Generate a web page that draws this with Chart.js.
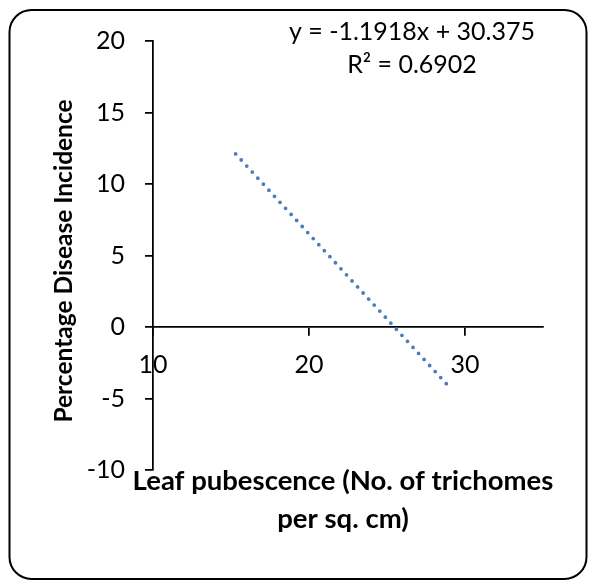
<!DOCTYPE html>
<html>
<head>
<meta charset="utf-8">
<script src="https://cdn.jsdelivr.net/npm/chart.js@4"></script>
<style>
  html, body { margin: 0; padding: 0; background: #fff; }
  #wrap { width: 589px; height: 582px; }
</style>
</head>
<body>
<div id="wrap"><canvas id="chart" width="589" height="582"></canvas></div>
<script>
// values
const trendX = [15.3, 29.0];
const trendY = [12.1, -4.2];
const xTickValues = [10, 20, 30];
const yTickValues = [-10, -5, 0, 5, 10, 15, 20];
const equationLines = ['y = -1.1918x + 30.375', 'R\u00b2 = 0.6902'];
const yTitle = 'Percentage Disease Incidence';
const xTitleLines = ['Leaf pubescence (No. of trichomes', 'per sq. cm)'];

const FONT = 'Lato, "Open Sans", sans-serif';

// frame, axis titles and trendline label
const decorations = {
    id: 'decorations',
    beforeDraw(chart) {
        const ctx = chart.ctx;
        ctx.save();
        ctx.fillStyle = '#fff';
        ctx.fillRect(0, 0, chart.width, chart.height);
        ctx.beginPath();
        ctx.roundRect(9.5, 10, 577, 569, 22);
        ctx.lineWidth = 2;
        ctx.strokeStyle = '#000';
        ctx.stroke();
        ctx.restore();
    },
    afterDraw(chart) {
        const ctx = chart.ctx;
        ctx.save();
        ctx.fillStyle = '#000';
        ctx.textAlign = 'center';
        ctx.textBaseline = 'alphabetic';

        ctx.font = '25px ' + FONT;
        ctx.fillText(equationLines[0], 412, 40);
        ctx.fillText(equationLines[1], 412, 73);

        ctx.font = 'bold 27.5px ' + FONT;
        ctx.fillText(xTitleLines[0], 343, 490);
        ctx.fillText(xTitleLines[1], 343, 528);

        ctx.font = 'bold 24.5px ' + FONT;
        ctx.translate(72, 261);
        ctx.rotate(-Math.PI / 2);
        ctx.fillText(yTitle, 0, 0);
        ctx.restore();
    }
};

const ctx = document.getElementById('chart').getContext('2d');
new Chart(ctx, {
    type: 'scatter',
    data: {
        datasets: [{
            label: 'Linear trend',
            data: trendX.map((x, i) => ({ x: x, y: trendY[i] })),
            showLine: true,
            borderColor: '#4A7DBA',
            borderWidth: 3.8,
            borderDash: [0, 8.2],
            borderCapStyle: 'round',
            pointRadius: 0,
            fill: false
        }]
    },
    options: {
        responsive: false,
        animation: false,
        layout: { padding: { left: 73, right: 46, top: 41, bottom: 112 } },
        plugins: { legend: { display: false }, tooltip: { enabled: false } },
        scales: {
            x: {
                type: 'linear',
                position: { y: 0 },
                min: 10, max: 35,
                afterBuildTicks: axis => { axis.ticks = xTickValues.map(v => ({ value: v })); },
                grid: { drawOnChartArea: false, tickLength: 8, color: '#000', lineWidth: 1.75 },
                border: { color: '#000', width: 1.75 },
                ticks: { color: '#000', font: { family: FONT, size: 25 }, padding: 15, maxRotation: 0 }
            },
            y: {
                type: 'linear',
                position: 'left',
                min: -10, max: 20,
                afterBuildTicks: axis => { axis.ticks = yTickValues.map(v => ({ value: v })); },
                afterFit: axis => { axis.width = 80; },
                grid: { drawOnChartArea: false, tickLength: 8, color: '#000', lineWidth: 1.75 },
                border: { color: '#000', width: 1.75 },
                ticks: { color: '#000', font: { family: FONT, size: 25 }, padding: 20 }
            }
        }
    },
    plugins: [decorations]
});
</script>
</body>
</html>
